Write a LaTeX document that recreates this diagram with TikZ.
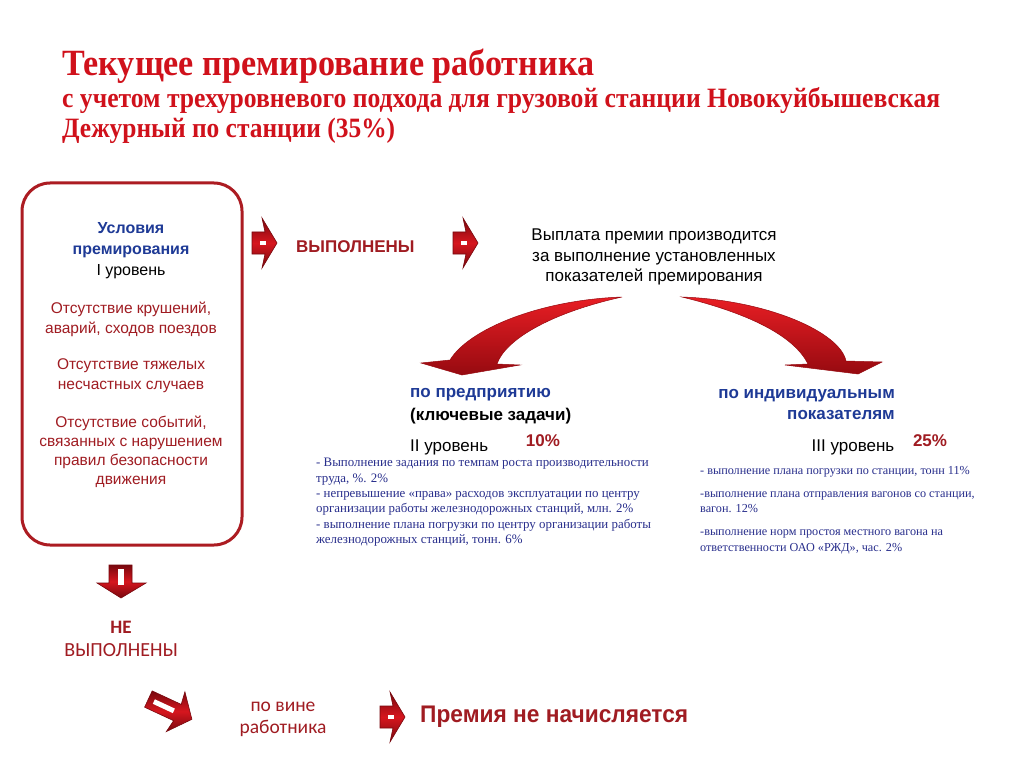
\documentclass[tikz,border=0pt]{standalone}
\usepackage{fontspec}
\usepackage{graphicx}
\setmainfont{Liberation Sans}
\newfontfamily\titlefont{Liberation Serif}
\newfontfamily\listfont{Liberation Serif}
\newfontfamily\calib{Carlito}
\definecolor{titlered}{RGB}{208,17,27}
\definecolor{boxred}{RGB}{172,28,34}
\definecolor{redtxt}{RGB}{160,28,34}
\definecolor{blutxt}{RGB}{30,58,150}
\definecolor{navy}{RGB}{40,46,140}
\definecolor{arrred}{RGB}{214,22,30}
\definecolor{arrdark}{RGB}{120,8,14}
\definecolor{curvetop}{RGB}{232,30,36}
\definecolor{curvebot}{RGB}{150,10,16}
\newcommand\fitw[2]{\resizebox{#1pt}{\height}{#2}}
\newcommand\fs[2]{\fontsize{#1}{#2}\selectfont}
\tikzset{
  arrowfill/.style={top color=arrdark, bottom color=arrdark, middle color=arrred, draw=arrdark, line width=0.6pt},
  curvefill/.style={top color=curvetop, bottom color=curvebot, draw=curvebot, line width=0.5pt},
  rarrow/.pic={
    \path[arrowfill] (-12,-11) -- (1,-11) -- (-2,-25) -- (13,0) -- (-2,25) -- (1,11) -- (-12,11) -- cycle;
    \fill[white] (-4,-2) rectangle (2,2);
  },
  titletext/.style={anchor=base west, inner sep=0pt, text=titlered, font=\titlefont\bfseries},
  boxtext/.style={align=center, inner sep=0pt, text=redtxt, font=\fs{15.5}{20}},
  listtext/.style={align=left, inner sep=0pt, text=navy, font=\listfont\fs{12.9}{15.4}}
}
\begin{document}
\begin{tikzpicture}[x=1pt,y=-1pt]
\useasboundingbox (0,0) rectangle (1024,767);
\fill[white] (0,0) rectangle (1024,767);

% Title
\node[titletext] (t1) at (62,76) {\fitw{532}{\fs{37}{37}Текущее премирование работника}};
\node[titletext] (t2) at (62,108) {\fitw{878}{\fs{28}{28}с учетом трехуровневого подхода для грузовой станции Новокуйбышевская}};
\node[titletext] (t3) at (62,138) {\fitw{333}{\fs{28}{28}Дежурный по станции (35\%)}};

% Left box
\node[draw=boxred, line width=3pt, rounded corners=28pt, minimum width=220pt, minimum height=362pt, inner sep=0pt] (box) at (132,364) {};
\node[boxtext, font=\fs{16}{21}] (g1) at (131,251) {\textcolor{blutxt}{\bfseries Условия}\\\textcolor{blutxt}{\bfseries премирования}\\\textcolor{black}{I уровень}};
\node[boxtext] (g2) at (131,319) {Отсутствие крушений,\\аварий, сходов поездов};
\node[boxtext] (g3) at (131,376) {Отсутствие тяжелых\\несчастных случаев};
\node[boxtext, font=\fs{15.5}{19}] (g4) at (131,452) {Отсутствие событий,\\связанных с нарушением\\правил безопасности\\движения};

% Top arrows and texts
\pic (a1) at (264,243) {rarrow};
\node[anchor=west, inner sep=0pt, text=redtxt, font=\bfseries\fs{17}{17}] (vyp) at (296,247) {ВЫПОЛНЕНЫ};
\pic (a2) at (465,243) {rarrow};
\node[align=center, inner sep=0pt, font=\fs{17}{20.5}] (pay) at (654,257) {Выплата премии производится\\за выполнение установленных\\показателей премирования};

% Curved arrows
\path[curvefill] (622,297) .. controls (538,300) and (468,330) .. (450,360) -- (421,363) -- (462,375) -- (520,365) -- (497,364) .. controls (505,340) and (550,313) .. (622,297) -- cycle;
\path[curvefill] (682,297) .. controls (767,300) and (840,332) .. (846,361) -- (882,362) -- (858,374) -- (785,365) -- (808,364) .. controls (795,338) and (755,315) .. (682,297) -- cycle;

% Branch II
\node[anchor=west, inner sep=0pt, text=blutxt, font=\bfseries\fs{17}{17}] (pp) at (410,395) {по предприятию};
\node[anchor=west, inner sep=0pt, font=\bfseries\fs{17}{17}] (kz) at (410,416) {(ключевые задачи)};
\node[anchor=west, inner sep=0pt, font=\fs{17}{17}] (l2) at (410,447) {II уровень};
\node[inner sep=0pt, text=redtxt, font=\bfseries\fs{17}{17}] (p10) at (543,441) {10\%};
\node[listtext, anchor=north west] (list2) at (316,458) {- Выполнение задания по темпам роста производительности\\труда, \%. 2\%\\- непревышение «права» расходов эксплуатации по центру\\организации работы железнодорожных станций, млн. 2\%\\- выполнение плана погрузки по центру организации работы\\железнодорожных станций, тонн. 6\%};

% Branch III
\node[anchor=east, align=right, inner sep=0pt, text=blutxt, font=\bfseries\fs{17}{21}] (pi) at (895,405) {по индивидуальным\\показателям};
\node[inner sep=0pt, font=\fs{17}{17}] (l3) at (853,447) {III уровень};
\node[inner sep=0pt, text=redtxt, font=\bfseries\fs{17}{17}] (p25) at (930,441) {25\%};
\node[listtext, anchor=north west, font=\listfont\fs{12.2}{15.2}] (list3) at (700,466) {- выполнение плана погрузки по станции, тонн 11\%\\[8pt]-выполнение плана отправления вагонов со станции,\\вагон. 12\%\\[8pt]-выполнение норм простоя местного вагона на\\ответственности ОАО «РЖД», час. 2\%};

% Bottom part
\path[arrowfill] (109,565) -- (132,565) -- (132,583) -- (146,583) -- (121,598) -- (97,583) -- (109,583) -- cycle;
\fill[white] (118,569) rectangle (124,585);
\node[inner sep=0pt, text=redtxt, font=\calib\bfseries\fs{19}{19}] (ne) at (121,627) {НЕ};
\node[inner sep=0pt, text=redtxt, font=\calib\fs{20}{20}] (nevyp) at (121,650) {ВЫПОЛНЕНЫ};

\path[arrowfill] (152.2,690.9) -- (181.2,704.4) -- (184.9,691.8) -- (191.9,719.3) -- (166.3,731.6) -- (173.6,720.7) -- (144.6,707.2) -- cycle;
\fill[white] (154.9,699.3) -- (174.9,708.6) -- (172.8,713.1) -- (152.8,703.8) -- cycle;

\node[align=center, inner sep=0pt, text=redtxt, font=\calib\fs{19.5}{22}] (vine) at (283,719) {по вине\\работника};
\pic (a3) at (392,717) {rarrow};
\node[anchor=west, inner sep=0pt, text=redtxt, font=\bfseries] (nn) at (420,717) {\fitw{268}{\fs{24}{24}Премия не начисляется}};
\end{tikzpicture}
\end{document}
